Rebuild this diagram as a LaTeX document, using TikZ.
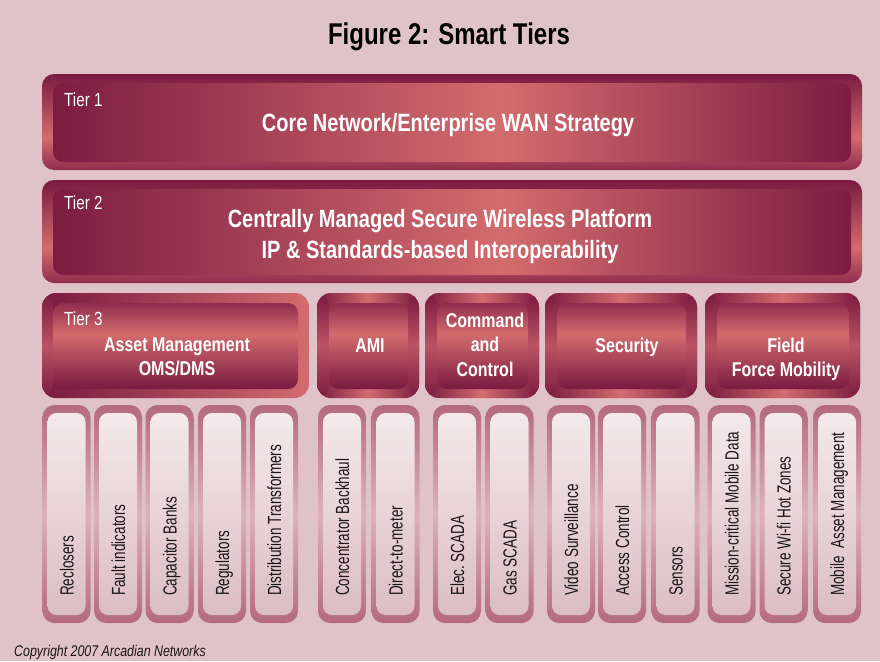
\documentclass[tikz,border=0pt]{standalone}
\usepackage{fontspec}
\setmainfont[FakeStretch=0.8]{Liberation Sans}
\newfontfamily\narrowfont[FakeStretch=0.71]{Liberation Sans}
\definecolor{pageBg}{HTML}{DFC3C8}
\definecolor{tierDark}{HTML}{7A1A40}
\definecolor{tierMid}{HTML}{902D4D}
\definecolor{tierSide}{HTML}{BA5363}
\definecolor{tierLight}{HTML}{D26C6E}
\definecolor{colEdge}{HTML}{B46A7E}
\definecolor{colGlow}{HTML}{DDB2BB}
\definecolor{colTop}{HTML}{F4EBED}
\definecolor{colBottom}{HTML}{DBBBC3}
\definecolor{inkText}{HTML}{1B1517}

% the 25bp..75bp part of each shading is stretched over the filled path
\pgfdeclarehorizontalshading{wideglow}{100bp}{color(0bp)=(tierDark); color(25bp)=(tierDark); color(53bp)=(tierLight); color(75bp)=(tierDark); color(100bp)=(tierDark)}
\pgfdeclareverticalshading{widerim}{100bp}{color(0bp)=(tierMid); color(25bp)=(tierMid); color(42bp)=(tierLight); color(75bp)=(tierDark); color(100bp)=(tierDark)}
\pgfdeclareverticalshading{boxglow}{100bp}{color(0bp)=(tierDark); color(25bp)=(tierDark); color(57bp)=(tierLight); color(75bp)=(tierMid); color(100bp)=(tierMid)}

\begin{document}
\begin{tikzpicture}[x=1pt, y=-1pt,
  wideframe/.style={shade, shading=widerim, shading angle=0, rounded corners=12pt,
    inner sep=0pt, minimum width=820pt,
    path picture={\shade[shading=wideglow, shading angle=0, rounded corners=10pt]
      ([shift={(11pt,-9pt)}]path picture bounding box.north west) rectangle
      ([shift={(-11pt,8pt)}]path picture bounding box.south east);}},
  boxframe/.style={left color=tierDark, right color=tierDark, middle color=tierLight,
    rounded corners=14pt, inner sep=0pt, minimum height=105pt,
    path picture={
      \shade[top color=tierDark, bottom color=tierDark, middle color=tierSide]
        (path picture bounding box.north west) rectangle ([xshift=12pt]path picture bounding box.south west);
      \shade[top color=tierDark, bottom color=tierDark, middle color=tierSide]
        (path picture bounding box.north east) rectangle ([xshift=-11pt]path picture bounding box.south east);
      \shade[shading=boxglow, shading angle=0, rounded corners=10pt]
        ([shift={(12pt,-10pt)}]path picture bounding box.north west) rectangle
        ([shift={(-11pt,9pt)}]path picture bounding box.south east);}},
  assetframe/.style={left color=tierDark, right color=tierLight,
    rounded corners=14pt, inner sep=0pt, minimum height=105pt,
    path picture={
      \shade[top color=tierDark, bottom color=tierDark, middle color=tierSide]
        (path picture bounding box.north west) rectangle ([xshift=11pt]path picture bounding box.south west);
      \shade[shading=boxglow, shading angle=0, rounded corners=10pt]
        ([shift={(11pt,-10pt)}]path picture bounding box.north west) rectangle
        ([shift={(-11pt,9pt)}]path picture bounding box.south east);}},
  colframe/.style={top color=colEdge, bottom color=colEdge, middle color=colGlow,
    rounded corners=12pt, inner sep=0pt, minimum width=48pt, minimum height=218pt,
    path picture={\shade[top color=colTop, bottom color=colBottom, rounded corners=9pt]
      ([shift={(5pt,-8pt)}]path picture bounding box.north west) rectangle
      ([shift={(-5pt,8pt)}]path picture bounding box.south east);}},
  tiertag/.style={anchor=base west, inner sep=0pt, text=white, font=\fontsize{19}{22}\selectfont},
  tiertext/.style={inner sep=0pt, text=white, align=center, font=\bfseries\fontsize{25}{31}\selectfont},
  boxtext/.style={inner sep=0pt, text=white, align=center, font=\bfseries\fontsize{20}{24.5}\selectfont},
  coltext/.style={rotate=90, anchor=base west, inner sep=0pt, text=inkText,
    font=\narrowfont\fontsize{19}{22}\selectfont}
]
\useasboundingbox (0,0) rectangle (880,661);
\fill[pageBg] (0,0) rectangle (880,661);

\node[anchor=base, inner sep=0pt, font=\bfseries\fontsize{30}{36}\selectfont] (title) at (449,45) {Figure 2: Smart Tiers};

% tier 1 and tier 2 bars
\node[wideframe, minimum height=96pt] (tierOne) at (452,122) {};
\node[tiertag] (tierOneTag) at (64,106) {Tier 1};
\node[tiertext, anchor=base] (tierOneText) at (448,131) {Core Network/Enterprise WAN Strategy};

\node[wideframe, minimum height=103pt] (tierTwo) at (452,231.5) {};
\node[tiertag] (tierTwoTag) at (64,209) {Tier 2};
\node[tiertext, anchor=north] (tierTwoText) at (440,209) {Centrally Managed Secure Wireless Platform\\IP \& Standards-based Interoperability};

% tier 3 boxes
\node[assetframe, minimum width=267pt] (assetBox) at (175.5,345.5) {};
\node[tiertag] (tierThreeTag) at (64,325) {Tier 3};
\node[boxtext, anchor=north] (assetText) at (177,337.5) {Asset Management\\OMS/DMS};

\node[boxframe, minimum width=102pt] (amiBox) at (368,345.5) {};
\node[boxtext, anchor=base] (amiText) at (370,352) {AMI};

\node[boxframe, minimum width=114pt] (commandBox) at (482,345.5) {};
\node[boxtext, anchor=north] (commandText) at (485,312.5) {Command\\and\\Control};

\node[boxframe, minimum width=152pt] (securityBox) at (621,345.5) {};
\node[boxtext, anchor=base] (securityText) at (627,352) {Security};

\node[boxframe, minimum width=155pt] (fieldBox) at (782.5,345.5) {};
\node[boxtext, anchor=north] (fieldText) at (786,337.5) {Field\\Force Mobility};

% device columns
\node[colframe] (reclosers) at (66.5,514) {};
\node[coltext] (reclosersLbl) at (73.5,596) {Reclosers};
\node[colframe] (faultInd) at (118,514) {};
\node[coltext] (faultIndLbl) at (125,596) {Fault indicators};
\node[colframe] (capBanks) at (169.5,514) {};
\node[coltext] (capBanksLbl) at (176.5,596) {Capacitor Banks};
\node[colframe] (regulators) at (222,514) {};
\node[coltext] (regulatorsLbl) at (229,596) {Regulators};
\node[colframe] (distTrans) at (274,514) {};
\node[coltext] (distTransLbl) at (281,596) {Distribution Transformers};

\node[colframe] (concBackhaul) at (342,514) {};
\node[coltext] (concBackhaulLbl) at (349,596) {Concentrator Backhaul};
\node[colframe] (directMeter) at (395.5,514) {};
\node[coltext] (directMeterLbl) at (402.5,596) {Direct-to-meter};

\node[colframe] (elecScada) at (457,514) {};
\node[coltext] (elecScadaLbl) at (464,596) {Elec.\ SCADA};
\node[colframe] (gasScada) at (509.5,514) {};
\node[coltext] (gasScadaLbl) at (516.5,596) {Gas SCADA};

\node[colframe] (videoSurv) at (571,514) {};
\node[coltext] (videoSurvLbl) at (578,596) {Video Surveillance};
\node[colframe] (accessCtl) at (622,514) {};
\node[coltext] (accessCtlLbl) at (629,596) {Access Control};
\node[colframe] (sensors) at (675.5,514) {};
\node[coltext] (sensorsLbl) at (682.5,596) {Sensors};

\node[colframe] (missionData) at (731.5,514) {};
\node[coltext] (missionDataLbl) at (738.5,596) {Mission-critical Mobile Data};
\node[colframe] (hotZones) at (783.5,514) {};
\node[coltext] (hotZonesLbl) at (790.5,596) {Secure Wi-fi Hot Zones};
\node[colframe] (mobileAsset) at (837,514) {};
\node[coltext] (mobileAssetLbl) at (844,596) {Mobile~ Asset Management};

\node[anchor=base west, inner sep=0pt, text=inkText, font=\itshape\fontsize{15.5}{18}\selectfont] (copyright) at (14,656) {Copyright 2007 Arcadian Networks};
\end{tikzpicture}
\end{document}
